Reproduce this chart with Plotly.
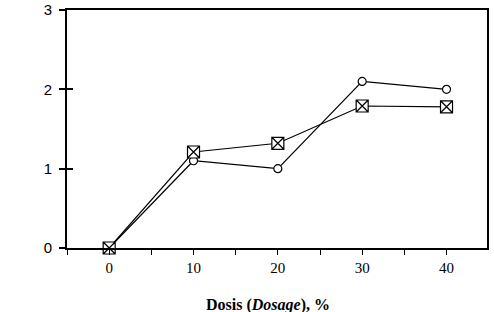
import plotly.graph_objects as go

dosage = [0, 10, 20, 30, 40]
series_circle = [0, 1.1, 1.0, 2.1, 2.0]
series_square = [0, 1.21, 1.32, 1.79, 1.78]
x_tick_vals = [0, 10, 20, 30, 40]
x_tick_text = ["0", "10", "20", "30", "40"]
y_tick_vals = [0, 1, 2, 3]
x_title = "<b>Dosis (<i>Dosage</i>), %</b>"

fig = go.Figure()
fig.add_trace(go.Scatter(
    x=dosage, y=series_circle, mode="lines+markers",
    line=dict(color="black", width=1.2),
    marker=dict(symbol="circle", size=8, color="white", line=dict(color="black", width=1.2)),
    showlegend=False, cliponaxis=False))
fig.add_trace(go.Scatter(
    x=dosage, y=series_square, mode="lines+markers",
    line=dict(color="black", width=1.2),
    marker=dict(symbol="square-x", size=12, color="white", line=dict(color="black", width=1.2)),
    showlegend=False, cliponaxis=False))
fig.add_trace(go.Scatter(x=[None], y=[None], yaxis="y2", showlegend=False))

fig.add_annotation(text=x_title, xref="paper", yref="paper", x=0.479, y=-0.195,
                   xanchor="center", yanchor="top", showarrow=False,
                   font=dict(family="Liberation Serif", size=16, color="black"))

fig.update_layout(
    width=494, height=312,
    margin=dict(l=67, r=7, t=10, b=64),
    plot_bgcolor="white", paper_bgcolor="white",
    xaxis=dict(
        range=[-5, 44.8], tickmode="array", tickvals=x_tick_vals, ticktext=x_tick_text,
        ticks="outside", ticklen=5, tickwidth=1, tickcolor="black",
        minor=dict(dtick=5, tick0=0, ticks="outside", ticklen=5, tickwidth=1, tickcolor="black"),
        showline=True, linecolor="black", linewidth=2, mirror=True,
        showgrid=False, zeroline=False, automargin=False,
        tickfont=dict(family="Liberation Serif", size=15, color="black"),
    ),
    yaxis=dict(
        range=[0, 3], tickmode="array", tickvals=y_tick_vals,
        ticks="outside", ticklen=6, tickwidth=1.5, tickcolor="black",
        showline=True, linecolor="black", linewidth=2, mirror=True,
        showgrid=False, zeroline=False, ticklabelstandoff=4, automargin=False,
        tickfont=dict(family="Liberation Sans", size=15, color="black"),
    ),
    yaxis2=dict(
        range=[0, 3], overlaying="y", side="left", tickmode="array", tickvals=y_tick_vals,
        ticks="inside", ticklen=6, tickwidth=1.5, tickcolor="black",
        showticklabels=False, showline=False, showgrid=False, zeroline=False,
    ),
)

fig.write_html("out.html")
